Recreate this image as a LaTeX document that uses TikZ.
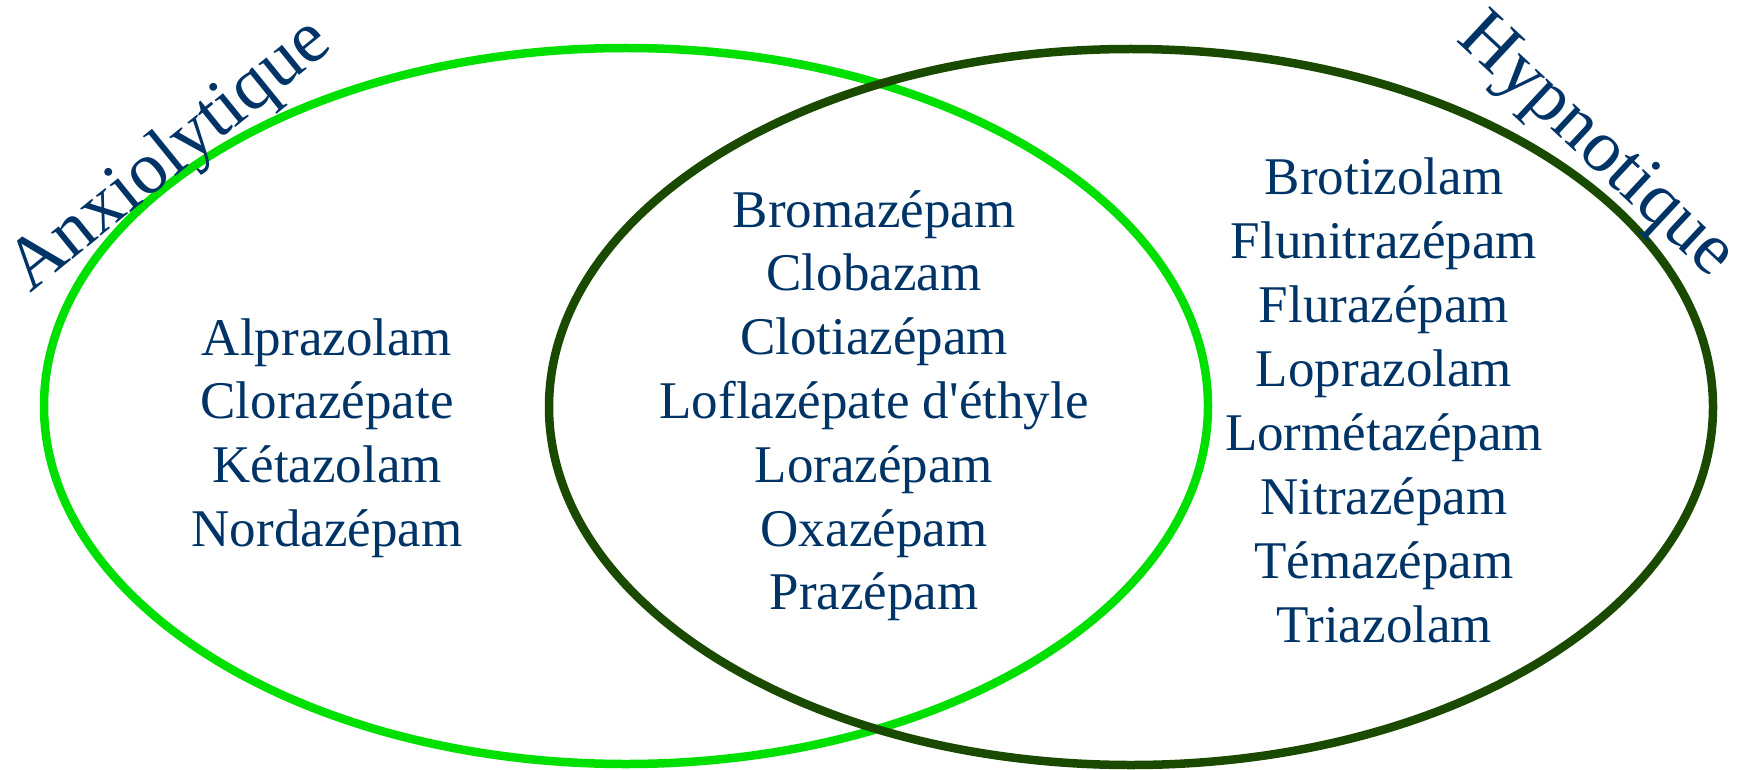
\documentclass[tikz,border=0pt]{standalone}
\usepackage{fontspec}
\setmainfont{Liberation Serif}
\definecolor{txtblue}{RGB}{0,51,102}
\definecolor{brightgreen}{RGB}{0,224,0}
\definecolor{darkgreen}{RGB}{26,74,0}
\tikzset{
  setring/.style={line width=8.5pt},
  item/.style={text=txtblue, anchor=base, inner sep=0pt, font=\fontsize{53}{64}\selectfont},
  setlabel/.style={text=txtblue, anchor=center, inner sep=0pt, font=\fontsize{74}{88}\selectfont}
}
\begin{document}
\begin{tikzpicture}[x=1pt,y=-1pt]
\useasboundingbox (0,0) rectangle (1742,770);
\draw[setring, brightgreen] (626,406) ellipse [x radius=582, y radius=358];
\draw[setring, darkgreen] (1131,407) ellipse [x radius=582, y radius=358];
\node[setlabel, rotate=39] (anx) at (171,157) {Anxiolytique};
\node[setlabel, rotate=-43] (hyp) at (1595,148) {Hypnotique};
\foreach \n [count=\i from 0] in {Alprazolam,Clorazépate,Kétazolam,Nordazépam}
  \node[item] (l\i) at (327,355+63.7*\i) {\n};
\foreach \n [count=\i from 0] in {Bromazépam,Clobazam,Clotiazépam,{Loflazépate d\textquotesingle éthyle},Lorazépam,Oxazépam,Prazépam}
  \node[item] (m\i) at (874,227+63.8*\i) {\n};
\foreach \n [count=\i from 0] in {Brotizolam,Flunitrazépam,Flurazépam,Loprazolam,Lormétazépam,Nitrazépam,Témazépam,Triazolam}
  \node[item] (r\i) at (1384,195+63.9*\i) {\n};
\end{tikzpicture}
\end{document}
